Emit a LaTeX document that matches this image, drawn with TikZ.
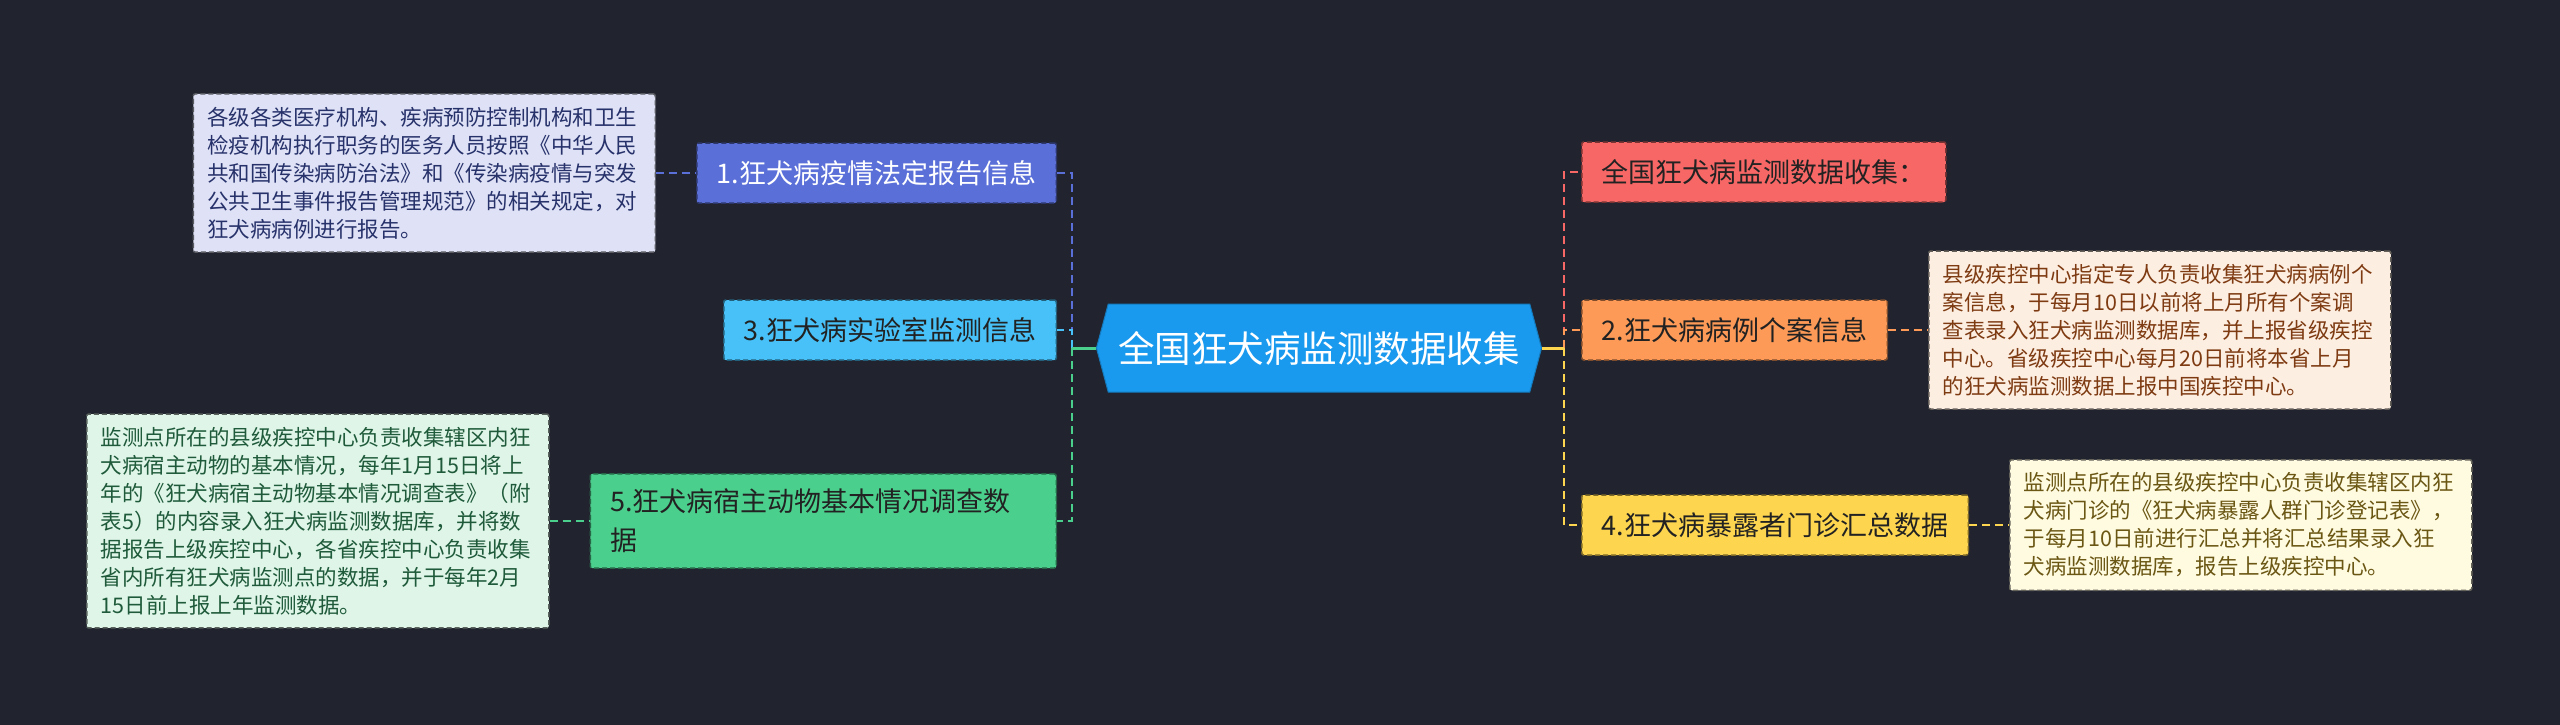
\documentclass[tikz,border=0pt]{standalone}
\usepackage{fontspec}
\setmainfont{Noto Sans CJK SC}
\usepackage{tikz}
\usetikzlibrary{positioning,shapes.symbols}

\definecolor{bgdark}{HTML}{21242F}
\definecolor{hubblue}{HTML}{1A9AEE}
\definecolor{cOne}{HTML}{5A6FD8}
\definecolor{cThree}{HTML}{47C1F7}
\definecolor{cFive}{HTML}{4BCF8D}
\definecolor{cZero}{HTML}{F66766}
\definecolor{cTwo}{HTML}{FD9A57}
\definecolor{cFour}{HTML}{FDD54F}
\definecolor{dOne}{HTML}{DFE2F6}
\definecolor{dFive}{HTML}{DEF5E8}
\definecolor{dTwo}{HTML}{FDEEE2}
\definecolor{dFour}{HTML}{FFFBE1}
\definecolor{tOne}{HTML}{27326B}
\definecolor{tFive}{HTML}{1F5A3A}
\definecolor{tTwo}{HTML}{7E3B12}
\definecolor{tFour}{HTML}{6B5714}
\definecolor{darktext}{HTML}{222222}

\begin{document}
\begin{tikzpicture}[x=1pt, y=-1pt, node distance=40pt,
    hubbox/.style={signal, signal to=west and east, signal pointer angle=150,
      fill=hubblue, draw=hubblue!80!black, line width=1pt, text=white,
      minimum height=88pt, inner xsep=10pt,
      font=\fontsize{36.5pt}{44pt}\selectfont},
    topic/.style={fill=#1, draw=#1!50!black, dash pattern=on 5pt off 3pt,
      line width=1.5pt, rounded corners=2pt, text=darktext,
      minimum height=60pt, inner xsep=20pt, inner ysep=15pt,
      font=\fontsize{27pt}{39pt}\selectfont},
    desc/.style={fill=#1, draw=#1!40!black, dash pattern=on 5pt off 3pt,
      line width=1.5pt, rounded corners=2pt, text width=434pt, align=left,
      inner xsep=14pt, inner ysep=13pt,
      font=\fontsize{21.5pt}{28pt}\selectfont},
    link/.style={line width=2.5pt, dash pattern=on 8pt off 5pt},
    stem/.style={line width=3pt}]

  \fill[bgdark] (0,0) rectangle (2560,725);
  \useasboundingbox (0,0) rectangle (2560,725);

  % centre
  \node (hub) [hubbox] at (1319,348) {全国狂犬病监测数据收集};
  \coordinate [left=24pt of hub.west] (ljoin);
  \coordinate [right=22pt of hub.east] (rjoin);

  % left branches
  \node (t1) [topic=cOne, text=white, anchor=east] at (1057,173) {1.狂犬病疫情法定报告信息};
  \node (t3) [topic=cThree, anchor=east] at (1057,330) {3.狂犬病实验室监测信息};
  \node (t5) [topic=cFive, anchor=east, text width=426pt, align=left] at (1057,521)
    {5.狂犬病宿主动物基本情况调查数\\据};

  % right branches
  \node (r0) [topic=cZero, anchor=west] at (1581,172) {全国狂犬病监测数据收集：};
  \node (t2) [topic=cTwo, anchor=west] at (1581,330) {2.狂犬病病例个案信息};
  \node (t4) [topic=cFour, anchor=west] at (1581,525) {4.狂犬病暴露者门诊汇总数据};

  % details
  \node (d1) [desc=dOne, text=tOne, left=40pt of t1] {
    各级各类医疗机构、疾病预防控制机构和卫生\\
    检疫机构执行职务的医务人员按照《中华人民\\
    共和国传染病防治法》和《传染病疫情与突发\\
    公共卫生事件报告管理规范》的相关规定，对\\
    狂犬病病例进行报告。};
  \node (d5) [desc=dFive, text=tFive, left=40pt of t5] {
    监测点所在的县级疾控中心负责收集辖区内狂\\
    犬病宿主动物的基本情况，每年1月15日将上\\
    年的《狂犬病宿主动物基本情况调查表》（附\\
    表5）的内容录入狂犬病监测数据库，并将数\\
    据报告上级疾控中心，各省疾控中心负责收集\\
    省内所有狂犬病监测点的数据，并于每年2月\\
    15日前上报上年监测数据。};
  \node (d2) [desc=dTwo, text=tTwo, right=40pt of t2] {
    县级疾控中心指定专人负责收集狂犬病病例个\\
    案信息，于每月10日以前将上月所有个案调\\
    查表录入狂犬病监测数据库，并上报省级疾控\\
    中心。省级疾控中心每月20日前将本省上月\\
    的狂犬病监测数据上报中国疾控中心。};
  \node (d4) [desc=dFour, text=tFour, right=40pt of t4] {
    监测点所在的县级疾控中心负责收集辖区内狂\\
    犬病门诊的《狂犬病暴露人群门诊登记表》，\\
    于每月10日前进行汇总并将汇总结果录入狂\\
    犬病监测数据库，报告上级疾控中心。};

  % connectors
  \draw[link, cOne] (ljoin) |- (t1.east);
  \draw[link, cThree] (ljoin) |- (t3.east);
  \draw[link, cFive] (ljoin) |- (t5.east);
  \draw[stem, cFive] (hub.west) -- (ljoin);
  \draw[link, cZero] (rjoin) |- (r0.west);
  \draw[link, cTwo] (rjoin) |- (t2.west);
  \draw[link, cFour] (rjoin) |- (t4.west);
  \draw[stem, cFour] (hub.east) -- (rjoin);

  \draw[link, cOne] (d1.east) -- (t1.west);
  \draw[link, cFive] (d5.east) -- (t5.west);
  \draw[link, cTwo] (t2.east) -- (d2.west);
  \draw[link, cFour] (t4.east) -- (d4.west);
\end{tikzpicture}
\end{document}
